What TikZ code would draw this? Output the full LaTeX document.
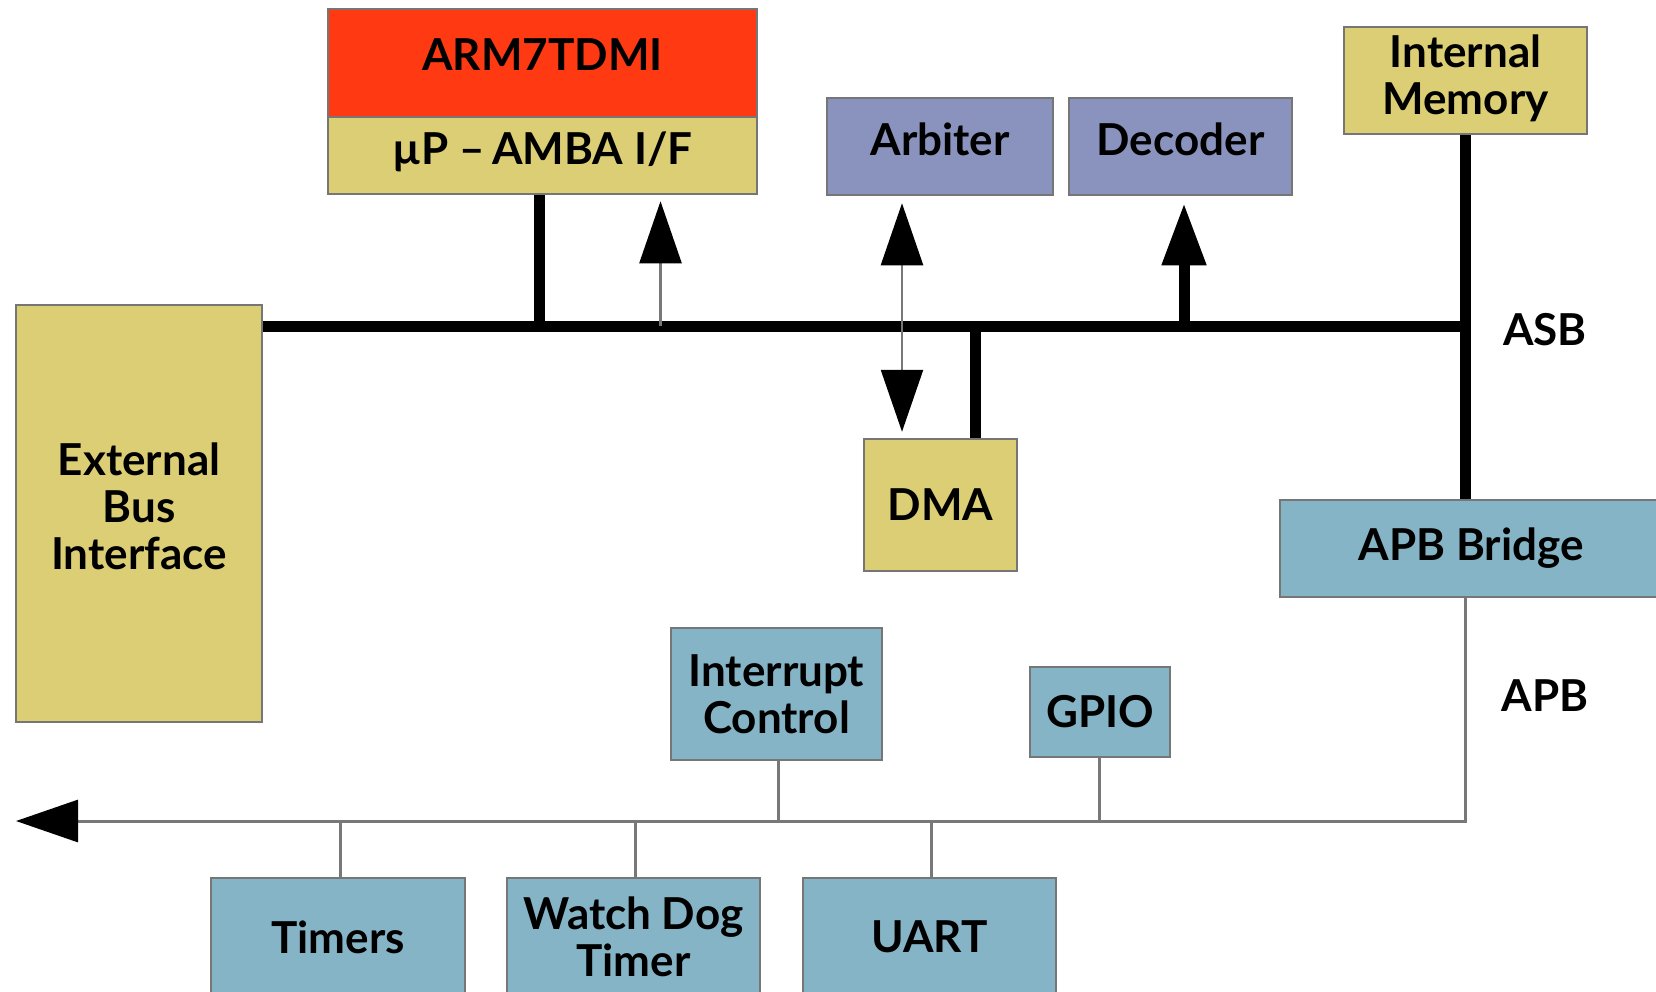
\documentclass[tikz,border=0pt]{standalone}
\usepackage{fontspec}
\setmainfont{Lato}
\usetikzlibrary{arrows.meta}
\definecolor{armred}{RGB}{255,58,18}
\definecolor{ambayel}{RGB}{220,206,116}
\definecolor{arbblue}{RGB}{138,147,189}
\definecolor{apbteal}{RGB}{133,180,198}
\definecolor{edgegray}{RGB}{118,118,118}
\definecolor{linegray}{RGB}{120,120,120}
\tikzset{
  box/.style={draw=edgegray, line width=2.5pt, inner sep=0pt, align=center,
    font=\fontsize{44}{47}\selectfont\bfseries},
  lbl/.style={inner sep=0pt, align=center, font=\fontsize{44}{47}\selectfont\bfseries},
  busline/.style={line width=11pt, black},
  thinline/.style={line width=2.5pt, linegray},
  apbline/.style={line width=3pt, linegray},
  bigtip/.tip={Triangle[length=62pt, width=42pt, color=black]},
}
\begin{document}
\begin{tikzpicture}[x=1pt,y=-1pt]
\clip (0,0) rectangle (1656,991);
\fill[white] (0,0) rectangle (1656,991);
% boxes
\node[box, fill=ambayel, minimum width=246pt, minimum height=417pt] (ext) at (139,513.5) {};
\node[lbl] (exttext) at (139,506) {External\\Bus\\Interface};
\node[box, fill=armred, minimum width=429pt, minimum height=108pt, text depth=16pt] (arm) at (542.5,63) {ARM7TDMI};
\node[box, fill=ambayel, minimum width=429pt, minimum height=77pt, text depth=15pt] (amba) at (542.5,155.5) {µP –\,AMBA I/F};
\node[box, fill=arbblue, minimum width=226pt, minimum height=97pt, text depth=15pt] (arb) at (940,146.5) {Arbiter};
\node[box, fill=arbblue, minimum width=223pt, minimum height=97pt, text depth=15pt] (dec) at (1180.5,146.5) {Decoder};
\node[box, fill=ambayel, minimum width=243pt, minimum height=107pt] (mem) at (1465.5,80.5) {};
\node[lbl] (memtext) at (1465.5,78) {Internal\\Memory};
\node[box, fill=ambayel, minimum width=153pt, minimum height=132pt] (dma) at (940.5,505) {DMA};
\node[box, fill=apbteal, minimum width=382pt, minimum height=97pt] (bridge) at (1471,548.5) {APB Bridge};
\node[box, fill=apbteal, minimum width=211pt, minimum height=132pt] (intc) at (776.5,694) {Interrupt\\Control};
\node[box, fill=apbteal, minimum width=140pt, minimum height=90pt] (gpio) at (1100,712) {GPIO};
\node[box, fill=apbteal, minimum width=254pt, minimum height=118pt] (timers) at (338,937) {Timers};
\node[box, fill=apbteal, minimum width=253pt, minimum height=118pt] (wdt) at (633.5,937) {Watch Dog\\Timer};
\node[box, fill=apbteal, minimum width=253pt, minimum height=118pt] (uart) at (929.5,937) {UART};
\node[lbl] (asb) at (1545,330) {ASB};
\node[lbl] (apb) at (1545,696) {APB};
% ASB bus
\coordinate (busy) at (0,326);
\coordinate (apby) at (0,821);
\draw[busline] (ext.east |- busy) -- (mem.south |- busy);
\draw[busline] (mem.south) -- (bridge.north -| mem.south);
\draw[busline] ([xshift=-3pt]amba.south) -- ([xshift=-3pt]amba.south |- busy);
\coordinate (ifx) at ([xshift=118pt]amba.south);
\draw[thinline, -bigtip, shorten >=6pt] (ifx |- busy) -- (ifx);
\coordinate (arbx) at ([xshift=-38pt]arb.south);
\draw[thinline, bigtip-bigtip, shorten <=7pt, shorten >=6pt] (arbx) -- (arbx |- dma.north);
\coordinate (decx) at ([xshift=3.5pt]dec.south);
\draw[busline, -bigtip, shorten >=7pt] (decx |- busy) -- (decx);
\coordinate (dmax) at ([xshift=34.5pt]dma.north);
\draw[busline] (dmax) -- (dmax |- busy);
% APB bus
\coordinate (apbend) at (16,821);
\coordinate (brx) at ([xshift=-6pt]bridge.south);
\draw[apbline, -bigtip] (brx) |- (apbend);
\draw[apbline] ([xshift=2pt]timers.north) -- ([xshift=2pt]timers.north |- apby);
\draw[apbline] ([xshift=1.5pt]wdt.north) -- ([xshift=1.5pt]wdt.north |- apby);
\draw[apbline] ([xshift=1.5pt]uart.north) -- ([xshift=1.5pt]uart.north |- apby);
\draw[apbline] ([xshift=1.5pt]intc.south) -- ([xshift=1.5pt]intc.south |- apby);
\draw[apbline] ([xshift=-1pt]gpio.south) -- ([xshift=-1pt]gpio.south |- apby);
\end{tikzpicture}
\end{document}
